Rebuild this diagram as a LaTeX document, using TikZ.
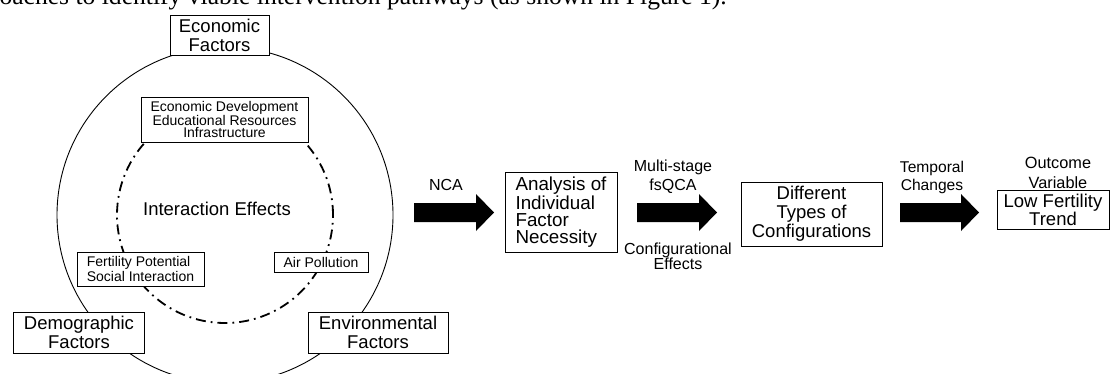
\documentclass[tikz,border=0pt]{standalone}
\usepackage{fontspec}
\setmainfont{Liberation Sans}
\newfontfamily\bodyfont{Liberation Serif}
\usetikzlibrary{calc}

\begin{document}
\begin{tikzpicture}[x=1pt,y=-1pt,
    factorbox/.style={draw, fill=white, line width=0.8pt, align=center, inner sep=1pt, font=\fontsize{18.5}{19}\selectfont},
    itembox/.style={draw, fill=white, line width=0.8pt, inner sep=1pt, font=\fontsize{14}{12.5}\selectfont},
    steplabel/.style={align=center, inner sep=0pt, font=\fontsize{16}{19}\selectfont}]
  \useasboundingbox (0,0) rectangle (1110,374);
  \clip (0,0) rectangle (1110,374);
  % line of the page text above the figure
  \node[anchor=base east, inner sep=0pt, font=\bodyfont\fontsize{25.6}{30}\selectfont] (pagetext) at (727,4.5) {oaches to identify viable intervention pathways (as shown in Figure 1).};

  % Factor circles
  \draw[line width=0.9pt] (225,215) circle[radius=168pt];
  \draw[line width=1.8pt, dash pattern=on 10pt off 5pt on 1.8pt off 5pt] (225,215) circle[radius=108pt];

  \node[factorbox, minimum width=99pt, minimum height=40pt] (econ) at (219.5,35) {Economic\\Factors};
  \node[factorbox, minimum width=131pt, minimum height=41pt] (demo) at (79,332.5) {Demographic\\Factors};
  \node[factorbox, minimum width=140pt, minimum height=41pt] (envi) at (378,332.5) {Environmental\\Factors};
  \node[itembox, align=center, minimum width=167pt, minimum height=45pt] (econitems) at (224.5,119.5) {Economic Development\\Educational Resources\\Infrastructure};
  \node[itembox, align=left, minimum width=127pt, minimum height=34pt] (demoitems) at (140.5,269) {Fertility Potential\\Social Interaction};
  \node[itembox, minimum width=94pt, minimum height=20pt] (enviitems) at (321,262) {Air Pollution};
  \node[font=\fontsize{18.5}{19}\selectfont] (inter) at (217,209) {Interaction Effects};

  % Analysis steps
  \node[factorbox, align=left, minimum width=112pt, minimum height=80pt, font=\fontsize{18.8}{17}\selectfont] (necess) at (561,212) {Analysis of\\Individual\\Factor\\Necessity};
  \node[factorbox, minimum width=141pt, minimum height=64pt] (config) at (811.5,214) {Different\\Types of\\Configurations};
  \node[factorbox, minimum width=112pt, minimum height=39pt, font=\fontsize{18.5}{18}\selectfont] (trend) at (1053,209.5) {Low Fertility\\Trend};

  \coordinate (ncatail) at (414,212.5);
  \coordinate (ncahead) at (494,212.5);
  \coordinate (qcatail) at (637,212.5);
  \coordinate (qcahead) at (717,212.5);
  \coordinate (timetail) at (900,212.5);
  \coordinate (timehead) at (979,212.5);
  \foreach \tail/\head in {ncatail/ncahead, qcatail/qcahead, timetail/timehead}
    \fill ($(\tail)+(0,-9.5)$) -- ($(\head)+(-18,-9.5)$) -- ($(\head)+(-18,-18.5)$) -- (\head)
      -- ($(\head)+(-18,18.5)$) -- ($(\head)+(-18,9.5)$) -- ($(\tail)+(0,9.5)$) -- cycle;

  \node[steplabel] (ncalabel) at (446,185) {NCA};
  \node[steplabel] (qcalabel) at (673,177) {Multi-stage\\fsQCA};
  \node[steplabel, font=\fontsize{16}{15}\selectfont] (effectlabel) at (678,256) {Configurational\\Effects};
  \node[steplabel, font=\fontsize{15.6}{18}\selectfont] (timelabel) at (932,177) {Temporal\\Changes};
  \node[steplabel, font=\fontsize{16.3}{20}\selectfont] (outcomelabel) at (1058,173) {Outcome\\Variable};
\end{tikzpicture}
\end{document}
